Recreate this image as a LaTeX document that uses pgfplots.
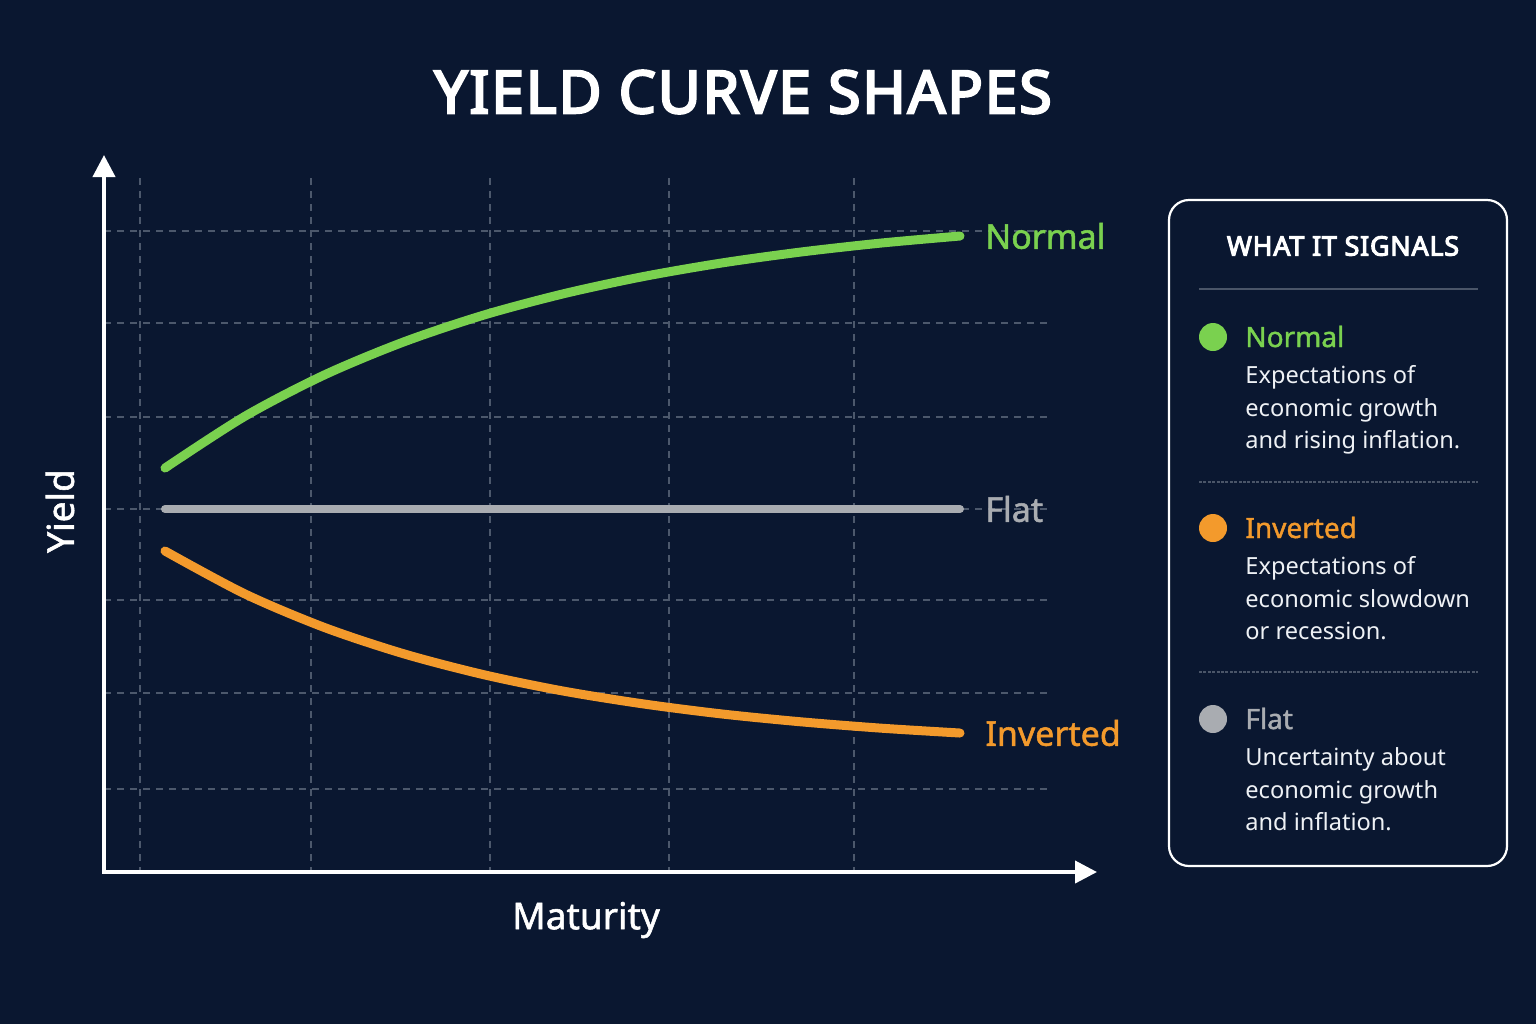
\documentclass[border=0pt]{standalone}
\usepackage{pgfplots}
\pgfplotsset{compat=1.18}
\usepackage{fontspec}
\setmainfont{Noto Sans}
\newfontfamily\medfont[FakeBold=1.5]{Noto Sans}
\newfontfamily\boldfont[FakeBold=4,LetterSpace=3]{Noto Sans}
\usetikzlibrary{arrows.meta}
\definecolor{bg}{HTML}{0A1730}
\definecolor{greenc}{HTML}{7AD14F}
\definecolor{orangec}{HTML}{F39A2C}
\definecolor{flatc}{HTML}{A9ACB1}
\definecolor{gridc}{HTML}{4C586C}
\definecolor{bodyc}{HTML}{EEF1F5}
\definecolor{sepc}{HTML}{4A5568}
\begin{document}
\begin{tikzpicture}[x=0.5pt,y=-0.5pt]
\fill[bg] (0,0) rectangle (1536,1024);
\begin{axis}[
  at={(104,872)}, anchor=south west,
  scale only axis, width=474pt, height=347pt,
  xmin=104, xmax=1052, ymin=178, ymax=872, y dir=reverse,
  clip=false,
  axis line style={draw=none},
  xtick={140,311,490,669,854},
  ytick={231,323,417,509,600,693,789},
  xticklabels={}, yticklabels={},
  major tick length=0pt,
  grid=major,
  grid style={gridc, line width=0.7pt, dash pattern=on 3.5pt off 3pt},
]
\addplot[flatc, line width=4pt, line cap=round] coordinates {(165,509) (960,509)};
\addplot[greenc, line width=4.5pt, line cap=round, smooth] coordinates {
(165,468) (244.5,416.5) (324,375.1) (403.5,342.0) (483,315.3) (562.5,294.0) (642,276.8) (721.5,263.0) (801,252.0) (880.5,243.1) (960,236)};
\addplot[orangec, line width=4.5pt, line cap=round, smooth] coordinates {
(165,551) (244.5,593.7) (324,627.3) (403.5,653.7) (483,674.5) (562.5,690.9) (642,703.7) (721.5,713.9) (801,721.8) (880.5,728.1) (960,733)};
\draw[white, line width=2pt, {Triangle[length=11pt,width=11pt]}-{Triangle[length=11pt,width=11pt]}]
  (axis cs:104,155) -- (axis cs:104,872) -- (axis cs:1097,872);
\node[anchor=west, text=greenc, font=\medfont\fontsize{17}{20}\selectfont, inner sep=0] at (axis cs:985,236) {Normal};
\node[anchor=west, text=flatc, font=\medfont\fontsize{17}{20}\selectfont, inner sep=0] at (axis cs:985,509) {Flat};
\node[anchor=west, text=orangec, font=\medfont\fontsize{17}{20}\selectfont, inner sep=0] at (axis cs:985,733) {Inverted};
\end{axis}
% title and axis labels
\node[text=white, font=\boldfont\fontsize{29.5}{34}\selectfont] at (743,92) {YIELD CURVE SHAPES};
\node[text=white, font=\medfont\fontsize{18.5}{22}\selectfont] at (586,920) {Maturity};
\node[text=white, font=\medfont\fontsize{18.5}{22}\selectfont, rotate=90] at (60,511) {Yield};
% panel
\draw[white, line width=1.1pt, rounded corners=10pt] (1169,200) rectangle (1507,866);
\node[text=white, font=\boldfont\fontsize{13.4}{16}\selectfont] at (1343,246) {WHAT IT SIGNALS};
\draw[sepc, line width=0.7pt] (1199,289) -- (1478,289);
\draw[sepc, line width=0.6pt, dash pattern=on 1.5pt off 0.7pt] (1199,482) -- (1478,482);
\draw[sepc, line width=0.6pt, dash pattern=on 1.5pt off 0.7pt] (1199,672) -- (1478,672);
% items
\fill[greenc] (1213,337) circle[radius=7pt];
\fill[orangec] (1213,528) circle[radius=7pt];
\fill[flatc] (1213,719) circle[radius=7pt];
\node[anchor=base west, text=greenc, font=\medfont\fontsize{14}{17}\selectfont, inner sep=0] at (1245,347) {Normal};
\node[anchor=base west, text=orangec, font=\medfont\fontsize{14}{17}\selectfont, inner sep=0] at (1245,538) {Inverted};
\node[anchor=base west, text=flatc, font=\medfont\fontsize{14}{17}\selectfont, inner sep=0] at (1245,729) {Flat};
\begin{scope}[every node/.style={anchor=base west, text=bodyc, font=\fontsize{11.8}{15}\selectfont, inner sep=0}]
\node at (1245,383) {Expectations of};
\node at (1245,416) {economic growth};
\node at (1245,448) {and rising inflation.};
\node at (1245,574) {Expectations of};
\node at (1245,607) {economic slowdown};
\node at (1245,639) {or recession.};
\node at (1245,765) {Uncertainty about};
\node at (1245,798) {economic growth};
\node at (1245,830) {and inflation.};
\end{scope}
\end{tikzpicture}
\end{document}
